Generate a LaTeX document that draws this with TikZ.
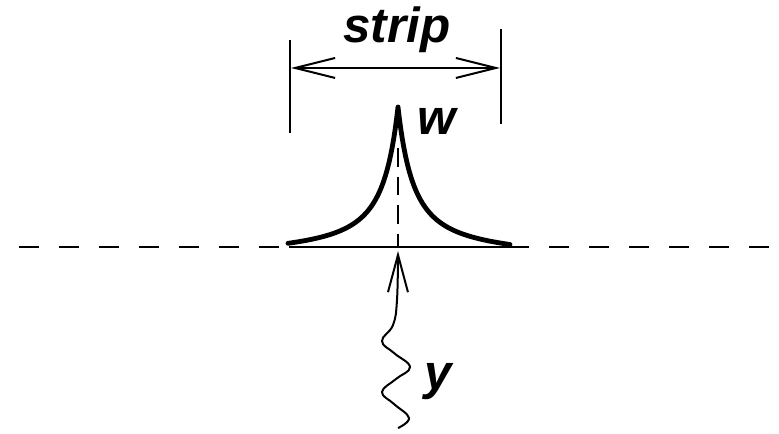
\documentclass[tikz,border=0pt]{standalone}
\usepackage{fontspec}
\setmainfont{Liberation Sans}
\usetikzlibrary{arrows.meta}
\begin{document}
\begin{tikzpicture}[x=0.75pt,y=-0.75pt,
  thinline/.style={line width=1.5pt},
  barb/.style={thinline,{Straight Barb[length=30pt,width=15pt,line width=1.5pt]}-{Straight Barb[length=30pt,width=15pt,line width=1.5pt]}},
  uparrow/.style={thinline,-{Straight Barb[length=28pt,width=15pt,line width=1.5pt]}},
  dashline/.style={thinline,dash pattern=on 15pt off 15pt},
  label/.style={font=\fontsize{37pt}{40pt}\selectfont\bfseries\itshape, inner sep=0pt, anchor=base}]
\useasboundingbox (0,0) rectangle (779,434);
% baseline
\coordinate (L0) at (19,247);
\coordinate (L1) at (279,247);
\coordinate (S0) at (289,247);
\coordinate (S1) at (529,247);
\coordinate (R0) at (549,247);
\coordinate (R1) at (771,247);
\draw[dashline] (L0) -- (L1);
\draw[thinline] (S0) -- (S1);
\draw[dashline] (R0) -- (R1);
% strip bars
\coordinate (bl0) at (290,40);
\coordinate (bl1) at (290,133);
\coordinate (br0) at (501,29);
\coordinate (br1) at (501,124);
\draw[thinline] (bl0) -- (bl1);
\draw[thinline] (br0) -- (br1);
\coordinate (al) at (291,68);
\coordinate (ar) at (500,68);
\draw[barb] (al) -- (ar);
\node[label] (strip) at (397,43) {strip};
% peak
\coordinate (peak) at (398,107);
\coordinate (foot) at (398,246);
\draw[thinline, dash pattern=on 14pt off 7.5pt] (398,148) -- (foot);
\draw[line width=3.6pt, line join=round, line cap=round]
  plot[domain=110:0, samples=80] ({398-\x},{245-138/((1+\x/31)^2)+5*\x/110})
  -- plot[domain=0:112, samples=80] ({398+\x},{245-138/((1+\x/31)^2)+6*\x/112});
\node[label] (w) at (437,135) {w};
% wavy arrow
\coordinate (wtop) at (398,250);
\draw[uparrow] plot[smooth, tension=0.7] coordinates {(398,428) (409,418) (394,404) (382,392) (396,379) (410,367) (394,353) (382,341) (393,325) (397,300) (398,251)};
\node[label] (y) at (438,390) {y};
\end{tikzpicture}
\end{document}
